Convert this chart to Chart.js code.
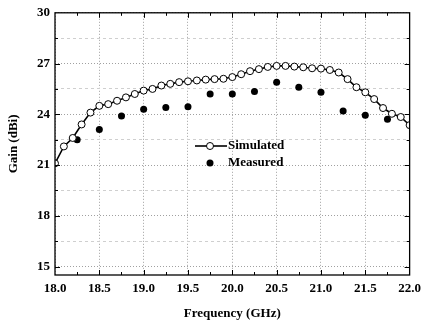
<!DOCTYPE html>
<html>
<head>
<meta charset="utf-8">
<script src="https://cdn.jsdelivr.net/npm/chart.js@4/dist/chart.umd.min.js"></script>
<style>
  html, body { margin: 0; padding: 0; background: #fff; }
  #wrap { width: 427px; height: 325px; position: relative; }
</style>
</head>
<body>
<div id="wrap"><canvas id="gain"></canvas></div>
<script>
// simulated gain, every 0.1 GHz from 18.0 to 22.0
const simFreq = [18.0,18.1,18.2,18.3,18.4,18.5,18.6,18.7,18.8,18.9,
                 19.0,19.1,19.2,19.3,19.4,19.5,19.6,19.7,19.8,19.9,
                 20.0,20.1,20.2,20.3,20.4,20.5,20.6,20.7,20.8,20.9,
                 21.0,21.1,21.2,21.3,21.4,21.5,21.6,21.7,21.8,21.9,22.0];
const simGain = [21.1,22.1,22.6,23.4,24.1,24.5,24.6,24.8,25.0,25.2,
                 25.4,25.5,25.7,25.8,25.9,25.95,26.0,26.05,26.08,26.1,
                 26.2,26.37,26.55,26.67,26.8,26.86,26.86,26.82,26.78,26.72,
                 26.7,26.62,26.47,26.08,25.6,25.3,24.9,24.37,24.03,23.84,23.36];

// measured gain
const measFreq = [18.25,18.5,18.75,19.0,19.25,19.5,19.75,20.0,20.25,20.5,20.75,21.0,21.25,21.5,21.75];
const measGain = [22.5,23.1,23.9,24.3,24.4,24.45,25.2,25.2,25.35,25.9,25.6,25.3,24.2,23.95,23.7];

const xTicks = [18.0,18.5,19.0,19.5,20.0,20.5,21.0,21.5,22.0];
const xMinor = [18.25,18.75,19.25,19.75,20.25,20.75,21.25,21.75];
const yTicks = [15,16.5,18,19.5,21,22.5,24,25.5,27,28.5,30];

const FONT = "'Liberation Serif', 'Times New Roman', serif";

function toPts(xs, ys){
    return xs.map((x, i) => ({x: x, y: ys[i]}));
}

// frame + inward tick marks + legend drawn inside the plot
const framePlugin = {
    id: "frame",
    afterDraw(chart){
        const ctx = chart.ctx;
        const a = chart.chartArea;
        const xs = chart.scales.x, ys = chart.scales.y;
        ctx.save();
        ctx.strokeStyle = "#000";
        ctx.lineWidth = 1;
        ctx.beginPath();
        xTicks.concat(xMinor).forEach(v => {
            if(v === 18 || v === 22) return;
            const px = Math.round(xs.getPixelForValue(v)) + 0.5;
            const len = xMinor.includes(v) ? 3 : 5;
            ctx.moveTo(px, a.bottom); ctx.lineTo(px, a.bottom - len);
            ctx.moveTo(px, a.top); ctx.lineTo(px, a.top + len);
        });
        yTicks.forEach((v, i) => {
            if(v === 30) return;
            const py = Math.round(ys.getPixelForValue(v)) + 0.5;
            const len = i % 2 ? 3 : 5;
            ctx.moveTo(a.left, py); ctx.lineTo(a.left + len, py);
            ctx.moveTo(a.right, py); ctx.lineTo(a.right - len, py);
        });
        ctx.stroke();
        ctx.lineWidth = 1.3;
        ctx.strokeRect(a.left, a.top, a.right - a.left, a.bottom - a.top);

        // legend
        const ds = chart.data.datasets;
        ctx.font = "bold 13px " + FONT;
        ctx.textBaseline = "middle";
        ctx.fillStyle = "#000";
        ctx.lineWidth = 1.6;
        ctx.beginPath();
        ctx.moveTo(195, 146); ctx.lineTo(227, 146);
        ctx.stroke();
        ctx.beginPath();
        ctx.arc(210, 146, 3.5, 0, Math.PI * 2);
        ctx.fillStyle = "#fff"; ctx.fill();
        ctx.lineWidth = 1; ctx.stroke();
        ctx.fillStyle = "#000";
        ctx.fillText(ds[0].label, 228, 146);
        ctx.beginPath();
        ctx.arc(210, 163, 3.5, 0, Math.PI * 2);
        ctx.fill();
        ctx.fillText(ds[1].label, 228, 163);
        ctx.restore();
    }
};

const ctx = document.getElementById("gain");
const chart = new Chart(ctx, {
    type: "scatter",
    data: {
        datasets: [{
            label: "Simulated",
            data: toPts(simFreq, simGain),
            showLine: true,
            borderColor: "#000",
            borderWidth: 1.6,
            pointRadius: 3.5,
            pointBackgroundColor: "#fff",
            pointBorderColor: "#000",
            pointBorderWidth: 1,
            tension: 0
        }, {
            label: "Measured",
            data: toPts(measFreq, measGain),
            showLine: false,
            pointRadius: 3.5,
            pointBackgroundColor: "#000",
            pointBorderColor: "#000",
            pointBorderWidth: 0
        }]
    },
    options: {
        responsive: true,
        maintainAspectRatio: false,
        animation: false,
        devicePixelRatio: 1,
        layout: { padding: { left: 0, right: 15, top: 9, bottom: 0 } },
        plugins: {
            legend: { display: false },
            tooltip: { enabled: false }
        },
        scales: {
            x: {
                type: "linear",
                min: 18, max: 22,
                afterBuildTicks: s => { s.ticks = xTicks.map(v => ({value: v})); },
                afterFit: s => { s.height = 50; },
                grid: { color: "#a0a0a0", lineWidth: 1, drawTicks: false },
                border: { display: false, dash: [1, 2] },
                ticks: {
                    padding: 6,
                    color: "#000",
                    font: { family: FONT, size: 13, weight: "bold" },
                    callback: v => v.toFixed(1),
                    maxRotation: 0
                },
                title: {
                    display: true,
                    text: "Frequency (GHz)",
                    color: "#000",
                    font: { family: FONT, size: 13, weight: "bold" },
                    padding: { top: 4, bottom: 4 }
                }
            },
            y: {
                type: "linear",
                min: 14.5, max: 30,
                afterBuildTicks: s => { s.ticks = yTicks.map(v => ({value: v})); },
                afterFit: s => { s.width = 55; },
                grid: {
                    color: c => (c.tick && c.tick.value % 3 === 0) ? "#a0a0a0" : "#cfcfcf",
                    lineWidth: 1,
                    drawTicks: false
                },
                border: { display: false, dash: c => (c.tick && c.tick.value % 3 === 0) ? [1, 2] : [3, 3] },
                ticks: {
                    padding: 5,
                    color: "#000",
                    font: { family: FONT, size: 13, weight: "bold" },
                    callback: v => (v % 3 === 0 ? String(v) : "")
                },
                title: {
                    display: true,
                    text: "Gain (dBi)",
                    color: "#000",
                    font: { family: FONT, size: 13, weight: "bold" },
                    padding: { top: 6, bottom: 2 }
                }
            }
        }
    },
    plugins: [framePlugin]
});
</script>
</body>
</html>
